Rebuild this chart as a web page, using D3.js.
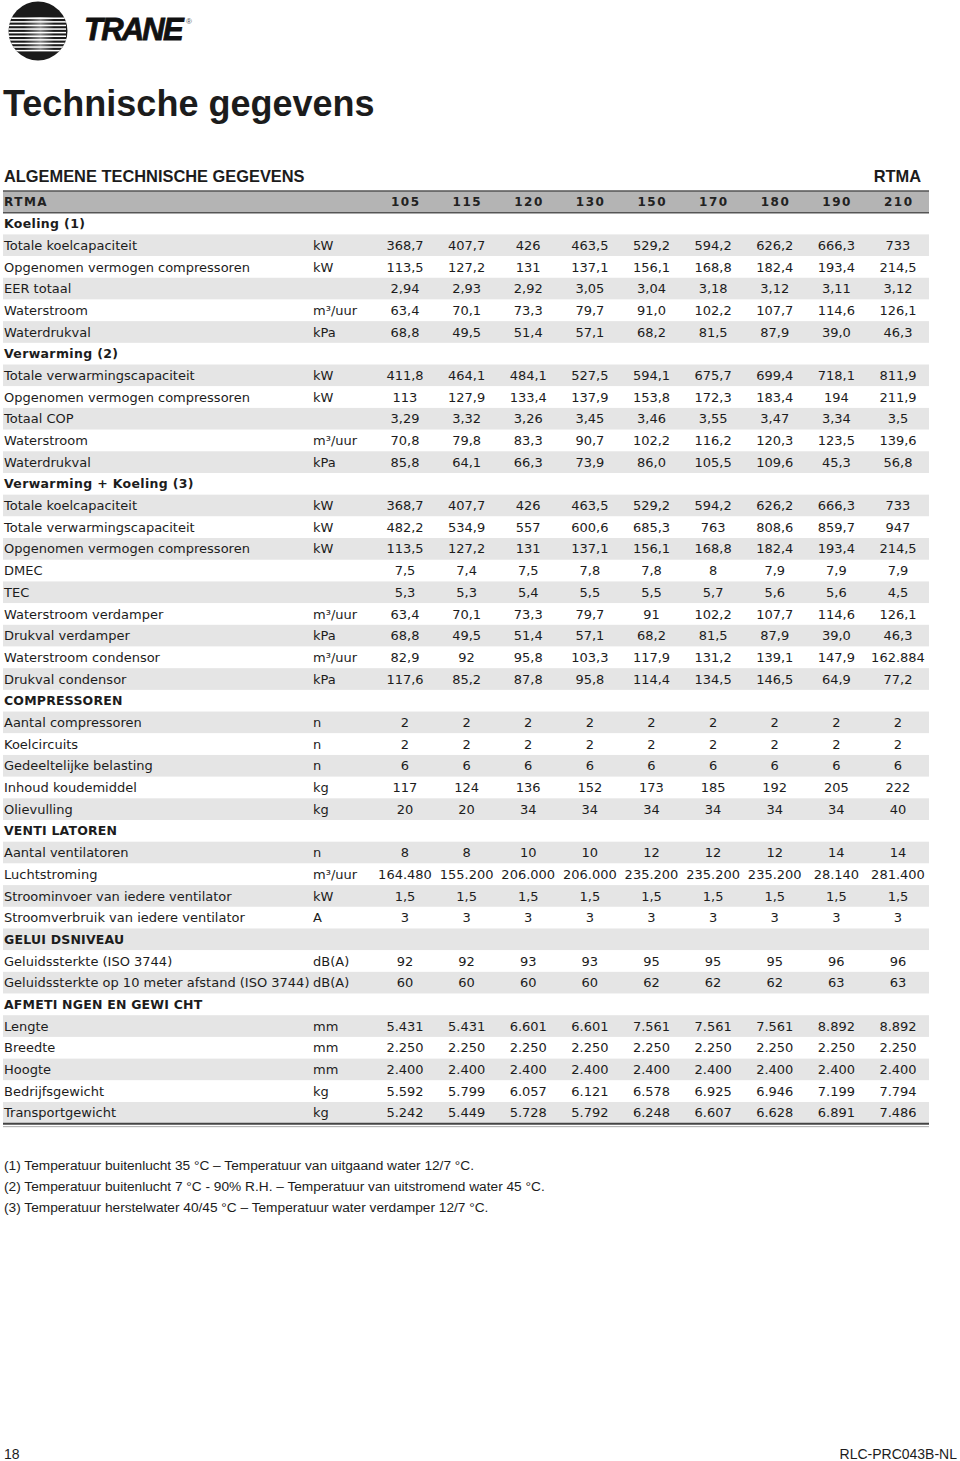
<!DOCTYPE html>
<html>
<head>
<meta charset="utf-8">
<title>Technische gegevens</title>
<script src="https://d3js.org/d3.v7.min.js"></script>
<style>
  body { margin: 0; background: #fff; }
  svg { display: block; }
</style>
</head>
<body>
<svg width="960" height="1461"></svg>
<script>
var models = ["105", "115", "120", "130", "150", "170", "180", "190", "210"];

var koeling = [
  ["Totale koelcapaciteit", "kW", ["368,7", "407,7", "426", "463,5", "529,2", "594,2", "626,2", "666,3", "733"]],
  ["Opgenomen vermogen compressoren", "kW", ["113,5", "127,2", "131", "137,1", "156,1", "168,8", "182,4", "193,4", "214,5"]],
  ["EER totaal", "", ["2,94", "2,93", "2,92", "3,05", "3,04", "3,18", "3,12", "3,11", "3,12"]],
  ["Waterstroom", "m³/uur", ["63,4", "70,1", "73,3", "79,7", "91,0", "102,2", "107,7", "114,6", "126,1"]],
  ["Waterdrukval", "kPa", ["68,8", "49,5", "51,4", "57,1", "68,2", "81,5", "87,9", "39,0", "46,3"]]
];

var verwarming = [
  ["Totale verwarmingscapaciteit", "kW", ["411,8", "464,1", "484,1", "527,5", "594,1", "675,7", "699,4", "718,1", "811,9"]],
  ["Opgenomen vermogen compressoren", "kW", ["113", "127,9", "133,4", "137,9", "153,8", "172,3", "183,4", "194", "211,9"]],
  ["Totaal COP", "", ["3,29", "3,32", "3,26", "3,45", "3,46", "3,55", "3,47", "3,34", "3,5"]],
  ["Waterstroom", "m³/uur", ["70,8", "79,8", "83,3", "90,7", "102,2", "116,2", "120,3", "123,5", "139,6"]],
  ["Waterdrukval", "kPa", ["85,8", "64,1", "66,3", "73,9", "86,0", "105,5", "109,6", "45,3", "56,8"]]
];

var verwarmingKoeling = [
  ["Totale koelcapaciteit", "kW", ["368,7", "407,7", "426", "463,5", "529,2", "594,2", "626,2", "666,3", "733"]],
  ["Totale verwarmingscapaciteit", "kW", ["482,2", "534,9", "557", "600,6", "685,3", "763", "808,6", "859,7", "947"]],
  ["Opgenomen vermogen compressoren", "kW", ["113,5", "127,2", "131", "137,1", "156,1", "168,8", "182,4", "193,4", "214,5"]],
  ["DMEC", "", ["7,5", "7,4", "7,5", "7,8", "7,8", "8", "7,9", "7,9", "7,9"]],
  ["TEC", "", ["5,3", "5,3", "5,4", "5,5", "5,5", "5,7", "5,6", "5,6", "4,5"]],
  ["Waterstroom verdamper", "m³/uur", ["63,4", "70,1", "73,3", "79,7", "91", "102,2", "107,7", "114,6", "126,1"]],
  ["Drukval verdamper", "kPa", ["68,8", "49,5", "51,4", "57,1", "68,2", "81,5", "87,9", "39,0", "46,3"]],
  ["Waterstroom condensor", "m³/uur", ["82,9", "92", "95,8", "103,3", "117,9", "131,2", "139,1", "147,9", "162.884"]],
  ["Drukval condensor", "kPa", ["117,6", "85,2", "87,8", "95,8", "114,4", "134,5", "146,5", "64,9", "77,2"]]
];

var compressoren = [
  ["Aantal compressoren", "n", ["2", "2", "2", "2", "2", "2", "2", "2", "2"]],
  ["Koelcircuits", "n", ["2", "2", "2", "2", "2", "2", "2", "2", "2"]],
  ["Gedeeltelijke belasting", "n", ["6", "6", "6", "6", "6", "6", "6", "6", "6"]],
  ["Inhoud koudemiddel", "kg", ["117", "124", "136", "152", "173", "185", "192", "205", "222"]],
  ["Olievulling", "kg", ["20", "20", "34", "34", "34", "34", "34", "34", "40"]]
];

var ventilatoren = [
  ["Aantal ventilatoren", "n", ["8", "8", "10", "10", "12", "12", "12", "14", "14"]],
  ["Luchtstroming", "m³/uur", ["164.480", "155.200", "206.000", "206.000", "235.200", "235.200", "235.200", "28.140", "281.400"]],
  ["Stroominvoer van iedere ventilator", "kW", ["1,5", "1,5", "1,5", "1,5", "1,5", "1,5", "1,5", "1,5", "1,5"]],
  ["Stroomverbruik van iedere ventilator", "A", ["3", "3", "3", "3", "3", "3", "3", "3", "3"]]
];

var geluidsniveau = [
  ["Geluidssterkte (ISO 3744)", "dB(A)", ["92", "92", "93", "93", "95", "95", "95", "96", "96"]],
  ["Geluidssterkte op 10 meter afstand (ISO 3744)", "dB(A)", ["60", "60", "60", "60", "62", "62", "62", "63", "63"]]
];

var afmetingen = [
  ["Lengte", "mm", ["5.431", "5.431", "6.601", "6.601", "7.561", "7.561", "7.561", "8.892", "8.892"]],
  ["Breedte", "mm", ["2.250", "2.250", "2.250", "2.250", "2.250", "2.250", "2.250", "2.250", "2.250"]],
  ["Hoogte", "mm", ["2.400", "2.400", "2.400", "2.400", "2.400", "2.400", "2.400", "2.400", "2.400"]],
  ["Bedrijfsgewicht", "kg", ["5.592", "5.799", "6.057", "6.121", "6.578", "6.925", "6.946", "7.199", "7.794"]],
  ["Transportgewicht", "kg", ["5.242", "5.449", "5.728", "5.792", "6.248", "6.607", "6.628", "6.891", "7.486"]]
];

var sections = [
  ["Koeling (1)", koeling],
  ["Verwarming (2)", verwarming],
  ["Verwarming + Koeling (3)", verwarmingKoeling],
  ["COMPRESSOREN", compressoren],
  ["VENTI LATOREN", ventilatoren],
  ["GELUI DSNIVEAU", geluidsniveau],
  ["AFMETI NGEN EN GEWI CHT", afmetingen]
];

var footnotes = [
  "(1) Temperatuur buitenlucht 35 °C – Temperatuur van uitgaand water 12/7 °C.",
  "(2) Temperatuur buitenlucht 7 °C - 90% R.H. – Temperatuur van uitstromend water 45 °C.",
  "(3) Temperatuur herstelwater 40/45 °C – Temperatuur water verdamper 12/7 °C."
];

// flatten into table rows: header, section titles, data rows
var rows = [{type: "header"}];
sections.forEach(function(s) {
  rows.push({type: "section", label: s[0]});
  s[1].forEach(function(r) {
    rows.push({type: "data", label: r[0], unit: r[1], values: r[2]});
  });
});

var svg = d3.select("svg"),
    tableLeft = 3, tableRight = 929, tableTop = 191, rowH = 21.69;

var y = d3.scaleBand()
    .domain(d3.range(rows.length))
    .range([tableTop, tableTop + rows.length * rowH]);

var x = d3.scalePoint()
    .domain(models)
    .range([405, 898]);

var bodyFont = "'DejaVu Sans', Verdana, sans-serif",
    headFont = "'Liberation Sans', Arial, Helvetica, sans-serif",
    ink = "#1c1c1c";

svg.append("rect").attr("width", 960).attr("height", 1461).attr("fill", "#fff");

// ---- logo ----
var logo = svg.append("g");
logo.append("clipPath").attr("id", "logoClip")
  .append("circle").attr("cx", 38).attr("cy", 31).attr("r", 29.5);
logo.append("circle").attr("cx", 38).attr("cy", 31).attr("r", 29.5).attr("fill", "#1a1a1a");
var grad = svg.append("defs").append("linearGradient").attr("id", "logoGrad");
grad.append("stop").attr("offset", "0%").attr("stop-color", "#1a1a1a");
grad.append("stop").attr("offset", "55%").attr("stop-color", "#8a8a8a");
grad.append("stop").attr("offset", "100%").attr("stop-color", "#1a1a1a");
var stripes = logo.append("g").attr("clip-path", "url(#logoClip)");
stripes.append("rect").attr("x", 24).attr("y", 17).attr("width", 30).attr("height", 34).attr("fill", "url(#logoGrad)");
d3.range(10).forEach(function(i) {
  stripes.append("rect")
    .attr("x", 8).attr("y", 17.5 + i * 3.6)
    .attr("width", 58).attr("height", 1.5)
    .attr("fill", "#fff");
});
logo.append("text")
  .attr("x", 84).attr("y", 40)
  .style("font", "italic 900 31px " + headFont)
  .attr("letter-spacing", -1.8)
  .attr("stroke", "#111").attr("stroke-width", 0.8)
  .attr("fill", "#111")
  .text("TRANE");
logo.append("text")
  .attr("x", 186).attr("y", 24)
  .style("font", "8px " + headFont)
  .attr("fill", "#555")
  .text("®");

// ---- titles ----
svg.append("text")
  .attr("x", 3).attr("y", 116)
  .style("font", "bold 36px " + headFont)
  .attr("fill", ink)
  .text("Technische gegevens");

svg.append("text")
  .attr("x", 4).attr("y", 182)
  .style("font", "bold 16.4px " + headFont)
  .attr("fill", ink)
  .text("ALGEMENE TECHNISCHE GEGEVENS");

svg.append("text")
  .attr("x", 921).attr("y", 182)
  .attr("text-anchor", "end")
  .style("font", "bold 16.4px " + headFont)
  .attr("fill", ink)
  .text("RTMA");

// ---- row backgrounds ----
var g = svg.append("g");
g.selectAll("rect.band")
  .data(rows)
  .enter().append("rect")
  .attr("class", "band")
  .attr("x", tableLeft)
  .attr("width", tableRight - tableLeft)
  .attr("y", function(d, i) { return y(i); })
  .attr("height", y.bandwidth() + 0.3)
  .attr("fill", function(d, i) {
    if (i === 0) return "#b4b4b4";
    return i % 2 === 0 ? "#e5e5e5" : "#fff";
  });

// header rules
g.append("line").attr("x1", tableLeft).attr("x2", tableRight)
  .attr("y1", y(0)).attr("y2", y(0)).attr("stroke", "#555").attr("stroke-width", 1.6);
g.append("line").attr("x1", tableLeft).attr("x2", tableRight)
  .attr("y1", y(0) + y.bandwidth()).attr("y2", y(0) + y.bandwidth()).attr("stroke", "#555").attr("stroke-width", 1.6);

// bottom rule
var tableBottom = y(rows.length - 1) + y.bandwidth();
g.append("line").attr("x1", tableLeft).attr("x2", tableRight)
  .attr("y1", tableBottom).attr("y2", tableBottom).attr("stroke", "#444").attr("stroke-width", 2);
g.append("line").attr("x1", tableLeft).attr("x2", tableRight)
  .attr("y1", tableBottom + 3).attr("y2", tableBottom + 3).attr("stroke", "#aaa").attr("stroke-width", 1);

function baseY(i) { return y(i) + y.bandwidth() / 2 + 4.6; }

// header row
g.append("text")
  .attr("x", 4).attr("y", baseY(0))
  .style("font", "bold 12px " + bodyFont)
  .attr("letter-spacing", 1.5)
  .attr("fill", "#222")
  .text("RTMA");
g.selectAll("text.model")
  .data(models)
  .enter().append("text")
  .attr("class", "model")
  .attr("x", function(d) { return x(d) + 0.75; })
  .attr("y", baseY(0))
  .attr("text-anchor", "middle")
  .style("font", "bold 12px " + bodyFont)
  .attr("letter-spacing", 1.5)
  .attr("fill", "#222")
  .text(function(d) { return d; });

// body rows
rows.forEach(function(r, i) {
  if (r.type === "section") {
    g.append("text")
      .attr("x", 4).attr("y", baseY(i))
      .style("font", "bold 12.5px " + bodyFont)
      .attr("letter-spacing", r.label === r.label.toUpperCase() ? 0.2 : 0.35)
      .attr("fill", ink)
      .text(r.label);
  } else if (r.type === "data") {
    g.append("text")
      .attr("x", 4).attr("y", baseY(i))
      .style("font", "13px " + bodyFont)
      .attr("fill", ink)
      .text(r.label);
    g.append("text")
      .attr("x", 313).attr("y", baseY(i))
      .style("font", "13px " + bodyFont)
      .attr("fill", ink)
      .text(r.unit);
    g.selectAll(null)
      .data(r.values)
      .enter().append("text")
      .attr("x", function(d, j) { return x(models[j]); })
      .attr("y", baseY(i))
      .attr("text-anchor", "middle")
      .style("font", "13px " + bodyFont)
      .attr("fill", ink)
      .text(function(d) { return d; });
  }
});

// ---- footnotes ----
svg.append("g").selectAll("text")
  .data(footnotes)
  .enter().append("text")
  .attr("x", 4)
  .attr("y", function(d, i) { return 1170 + i * 21; })
  .style("font", "13.7px " + headFont)
  .attr("fill", ink)
  .text(function(d) { return d; });

// ---- page footer ----
svg.append("text")
  .attr("x", 4).attr("y", 1459)
  .style("font", "14px " + headFont)
  .attr("fill", ink)
  .text("18");
svg.append("text")
  .attr("x", 957).attr("y", 1459)
  .attr("text-anchor", "end")
  .style("font", "14px 'Liberation Sans Narrow', " + headFont)
  .attr("fill", ink)
  .text("RLC-PRC043B-NL");
</script>
</body>
</html>
